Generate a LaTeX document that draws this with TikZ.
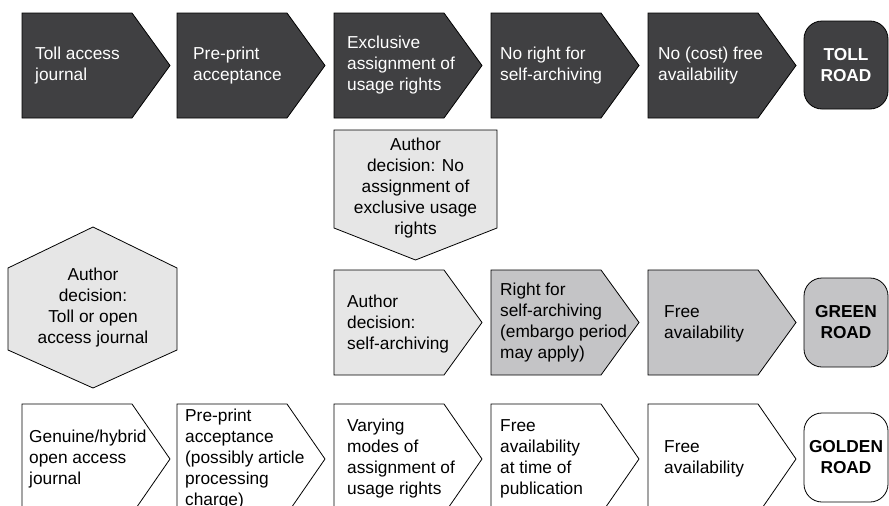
\documentclass[tikz,border=0pt]{standalone}
\usepackage{fontspec}
\setmainfont{Liberation Sans}
\usepackage{tikz}

\definecolor{tolldark}{RGB}{64,64,66}
\definecolor{greenmid}{RGB}{196,196,198}
\definecolor{decisionlight}{RGB}{230,230,230}

\tikzset{
  outline/.style={draw=black,line width=0.8pt},
  tollbox/.style={outline,fill=tolldark},
  greenbox/.style={outline,fill=greenmid},
  decisionbox/.style={outline,fill=decisionlight},
  goldbox/.style={outline,fill=white},
  roadbox/.style={rounded corners=18pt},
  boxtxt/.style={anchor=west,align=left,inner sep=0pt},
  roadtxt/.style={align=center,inner sep=0pt,font=\bfseries\fontsize{17.3}{21}\selectfont},
}

\begin{document}
\begin{tikzpicture}[x=1pt,y=-1pt]
\useasboundingbox (0,0) rectangle (889,506);
\clip (0,0) rectangle (889,506);
\fontsize{17.3}{21}\selectfont

% toll road
\foreach \x in {22,177,334,491,648}
  \draw[tollbox] (\x,13) -- ++(110,0) -- ++(38,52.5) -- ++(-38,52.5) -- ++(-110,0) -- cycle;
\draw[tollbox,roadbox] (804,21) rectangle (888,109);
\node[boxtxt,white] (tollj) at (35,65.5) {Toll access\\journal};
\node[boxtxt,white] (tollpre) at (193,65.5) {Pre-print\\acceptance};
\node[boxtxt,white] (tollexcl) at (347,65.5) {Exclusive\\assignment of\\usage rights};
\node[boxtxt,white] (tollnoright) at (500,65.5) {No right for\\self-archiving};
\node[boxtxt,white] (tollnofree) at (658,65.5) {No (cost) free\\availability};
\node[roadtxt,white] (tollroad) at (846,65) {TOLL\\ROAD};

% author decisions
\draw[decisionbox] (334,130) -- (497,130) -- (497,228) -- (415.5,260) -- (334,228) -- cycle;
\node[align=center,inner sep=0pt] (decnoassign) at (415.5,188)
  {Author\\decision: No\\assignment of\\exclusive usage\\rights};
\draw[decisionbox] (93,227) -- (177,268) -- (177,350) -- (93,388) -- (8,350) -- (8,268) -- cycle;
\node[align=center,inner sep=0pt] (decjournal) at (93,308)
  {Author\\decision:\\Toll or open\\access journal};

% green road
\draw[decisionbox] (334,270) -- ++(110,0) -- ++(38,52.5) -- ++(-38,52.5) -- ++(-110,0) -- cycle;
\foreach \x in {491,648}
  \draw[greenbox] (\x,270) -- ++(110,0) -- ++(38,52.5) -- ++(-38,52.5) -- ++(-110,0) -- cycle;
\draw[greenbox,roadbox] (804,278) rectangle (888,367);
\node[boxtxt] (greendec) at (347,324) {Author\\decision:\\self-archiving};
\node[boxtxt] (greenright) at (500,322.5) {Right for\\self-archiving\\(embargo period\\may apply)};
\node[boxtxt] (greenfree) at (664,324) {Free\\availability};
\node[roadtxt] (greenroad) at (846,322.5) {GREEN\\ROAD};

% golden road
\foreach \x in {22,177,334,491,648}
  \draw[goldbox] (\x,404) -- ++(110,0) -- ++(38,55) -- ++(-38,55) -- ++(-110,0) -- cycle;
\draw[goldbox,roadbox] (804,413) rectangle (888,502);
\node[boxtxt] (goldjournal) at (29,459) {Genuine/hybrid\\open access\\journal};
\node[boxtxt] (goldpre) at (185,459) {Pre-print\\acceptance\\(possibly article\\processing\\charge)};
\node[boxtxt] (goldmodes) at (347,459) {Varying\\modes of\\assignment of\\usage rights};
\node[boxtxt] (goldfreepub) at (500,459) {Free\\availability\\at time of\\publication};
\node[boxtxt] (goldfree) at (664,459) {Free\\availability};
\node[roadtxt] (goldroad) at (846,457.5) {GOLDEN\\ROAD};
\end{tikzpicture}
\end{document}
